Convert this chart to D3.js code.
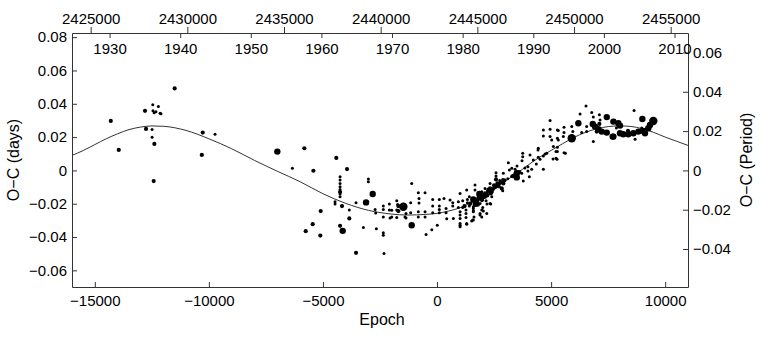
<!DOCTYPE html>
<html>
<head>
<meta charset="utf-8">
<script src="https://cdn.jsdelivr.net/npm/d3@7"></script>
<style>
  body { margin: 0; background: #fff; }
  text { font-family: "Liberation Sans", Arial, sans-serif; }
</style>
</head>
<body>
<div id="chart"></div>
<script>
// ephemeris used for the top (HJD) and right (period) axes
const period = 1.18;
const t0 = 2442915;

const epochTicks = [-15000, -10000, -5000, 0, 5000, 10000];
const daysTicks = [-0.06, -0.04, -0.02, 0, 0.02, 0.04, 0.06, 0.08];
const periodTicks = [-0.04, -0.02, 0, 0.02, 0.04, 0.06];
const jdTicks = [2425000, 2430000, 2435000, 2440000, 2445000, 2450000, 2455000];
const yearTicks = [1930, 1940, 1950, 1960, 1970, 1980, 1990, 2000, 2010];

// fitted light-time curve
const fitEpoch = [-16000, -15500, -15000, -14500, -14000, -13500, -13000, -12500, -12000, -11000,
  -10000, -9000, -8000, -7000, -6000, -5000, -4000, -3000, -2000, -1300, -500, 0, 500, 1000,
  1500, 2000, 2500, 3000, 3500, 4000, 4500, 5000, 5500, 6000, 6500, 7000, 7500, 8000, 8500,
  9000, 9500, 10000, 10500, 11000];
const fitOC = [0.0090, 0.0120, 0.0155, 0.0190, 0.0220, 0.0245, 0.0260, 0.0267, 0.0265, 0.0240,
  0.0190, 0.0130, 0.0060, -0.0005, -0.0068, -0.0140, -0.0198, -0.0240, -0.0262, -0.0268, -0.0264,
  -0.0258, -0.0244, -0.0225, -0.0193, -0.0155, -0.0113, -0.0063, -0.0018, 0.0033, 0.0080, 0.0120,
  0.0160, 0.0198, 0.0228, 0.0250, 0.0263, 0.0267, 0.0264, 0.0250, 0.0228, 0.0200, 0.0175, 0.0150];

// observed minima: [epoch, O-C days, weight class]
const observations = [
  [-14300,0.0297,2],[-13950,0.0123,2],[-12800,0.0358,2],[-12460,0.0394,1],[-12215,0.0383,1],[-12450,0.0358,1],
  [-12400,0.0346,1],[-12320,0.0352,1],[-12140,0.0343,1],[-12100,0.0340,1],[-12755,0.0249,2],[-12490,0.0245,1],
  [-12490,0.0199,1],[-12390,0.0159,2],[-12420,-0.0064,2],[-11500,0.0492,2],[-10270,0.0227,2],[-10310,0.0093,2],
  [-9730,0.0217,1],
  [-7000,0.0113,3],[-5815,0.0133,2],[-6340,0.0013,1],[-5420,-0.0002,2],[-4415,0.0075,2],[-3945,0.0008,2],
  [-4250,-0.0038,1],[-4250,-0.0058,1],[-4250,-0.0078,1],[-4250,-0.0098,1],[-4250,-0.0114,1],[-4250,-0.0130,2],
  [-4250,-0.0142,1],[-4250,-0.0158,1],[-4470,-0.0188,1],[-4470,-0.0202,1],[-5100,-0.0244,2],[-4165,-0.0214,2],
  [-3845,-0.0238,1],[-3845,-0.0288,2],[-5450,-0.0323,2],[-5755,-0.0365,2],[-5115,-0.0391,2],[-4250,-0.0333,2],
  [-4135,-0.0363,3],[-3550,-0.0194,1],[-3110,-0.0192,3],[-2820,-0.0142,3],[-3010,-0.0052,1],[-3010,-0.0068,1],
  [-3230,-0.0343,1],[-3550,-0.0495,2],[-2325,-0.0499,1],[-2660,-0.0351,1],[-2355,-0.0375,1],[-2355,-0.0389,1],
  [-2715,-0.0234,1],[-2690,-0.0255,1],[-2355,-0.0214,1],[-2355,-0.0234,1],[-2355,-0.0279,1],[-2090,-0.0202,1],
  [-2090,-0.0238,1],[-1765,-0.0182,1],[-1765,-0.0238,1],[-1695,-0.0214,2],[-1695,-0.0244,2],[-1475,-0.0218,4],
  [-1110,-0.0078,1],[-1155,-0.0194,1],[-820,-0.0134,1],[-525,-0.0134,1],[-790,-0.0168,1],[-790,-0.0196,1],
  [-1110,-0.0329,3],[-1360,-0.0286,1],[-1360,-0.0258,1],[-1765,-0.0282,1],[-2060,-0.0286,1],[-480,-0.0385,1],
  [-230,-0.0357,1],[10,-0.0329,1],[-190,-0.0174,1],[-190,-0.0214,1],[-190,-0.0254,1],[100,-0.0174,1],
  [100,-0.0214,1],[100,-0.0234,1],[100,-0.0254,1],[395,-0.0228,1],[395,-0.0254,1],[690,-0.0194,1],
  [690,-0.0214,1],[935,-0.0188,1],[935,-0.0222,1],[1010,-0.0248,1],[1010,-0.0268,1],[1010,-0.0288,1],
  [1125,-0.0182,1],[1125,-0.0222,1],[1270,-0.0238,1],[1270,-0.0258,1],[1270,-0.0282,1],[1330,-0.0174,1],
  [1330,-0.0194,1],[1415,-0.0158,1],[1415,-0.0214,1],[1010,-0.0329,1],[1300,-0.0323,1],[1520,-0.0303,1],
  [-1985,-0.0239,1],[-1985,-0.0279,1],[-1725,-0.0204,1],[-1405,-0.0279,1],[-1155,-0.0254,1],[-820,-0.0248,1],
  [-820,-0.0279,1],[-525,-0.0248,1],[-525,-0.0279,1],
  [1300,-0.0118,1],[1010,-0.0138,1],[305,-0.0168,1],[570,-0.0178,1],[425,-0.0290,1],[715,-0.0288,1],
  [1010,-0.0318,1],[1010,-0.0339,1],[1300,-0.0318,1],[1590,-0.0298,1],[1885,-0.0268,1],[1960,-0.0238,1],
  [2325,-0.0198,1],[1885,-0.0198,1],[1590,-0.0218,1],[1590,-0.0242,1],
  [1590,-0.0174,3],[1590,-0.0228,1],[1590,-0.0248,1],[1620,-0.0279,1],[1565,-0.0298,1],[1665,-0.0088,1],
  [1855,-0.0142,3],[1665,-0.0118,1],[1810,-0.0158,1],[1810,-0.0178,1],[1810,-0.0208,1],[1960,-0.0128,1],
  [1960,-0.0148,2],[1970,-0.0178,2],[2005,-0.0222,1],[2030,-0.0243,1],[1885,-0.0258,1],[2105,-0.0108,1],
  [2105,-0.0138,2],[2105,-0.0158,2],[2150,-0.0182,1],[2190,-0.0202,1],[2180,-0.0258,1],[2325,-0.0078,1],
  [2325,-0.0108,2],[2355,-0.0138,2],[2400,-0.0158,1],[2585,-0.0014,1],[2585,-0.0034,1],[2585,-0.0054,2],
  [2645,-0.0078,2],[2730,-0.0078,1],[2905,-0.0017,1],[2880,-0.0054,1],[2905,-0.0078,2],[2835,-0.0108,2],
  [2880,-0.0122,1],[1960,-0.0279,1],[2355,-0.0202,1],
  [2200,-0.0150,2],[2250,-0.0125,2],[2450,-0.0112,2],[2500,-0.0090,2],[2700,-0.0095,2],[2750,-0.0060,1],
  [2050,-0.0160,2],[1750,-0.0185,2],[1700,-0.0200,3],
  [1650,-0.0190,2],[1800,-0.0170,2],[1900,-0.0160,3],[2000,-0.0150,2],[2150,-0.0140,2],[2300,-0.0120,3],
  [2400,-0.0128,2],[2550,-0.0100,2],[2650,-0.0088,2],[2800,-0.0070,2],[2950,-0.0060,2],[3100,-0.0050,1],
  [3300,-0.0035,2],[3600,-0.0010,2],[3850,0.0015,1],[1450,-0.0200,2],[1200,-0.0215,2],
  [3275,0.0013,1],[3170,0.0002,1],[3345,-0.0028,1],[3495,-0.0017,3],[3495,-0.0042,3],[3710,-0.0017,1],
  [3780,-0.0064,1],[4045,-0.0038,1],[4150,0.0007,1],[4075,0.0093,1],[3755,0.0103,1],[3755,0.0082,1],
  [4220,0.0063,1],[4515,0.0067,1],[4440,0.0133,1],[4735,0.0099,1],[4440,0.0079,1],[4660,0.0007,1],
  [4660,0.0243,1],[4660,0.0207,1],[4955,0.0299,1],[5275,0.0243,1],[5275,0.0193,1],[5025,0.0183,1],
  [5275,0.0139,1],[5275,0.0113,1],[3725,0.0058,1],[4425,0.0122,1],[5260,0.0067,1],[5625,0.0103,1],
  [4955,0.0247,1],[4955,0.0203,1],[3420,0.0007,1],[3125,0.0046,1],[3505,0.0026,1],[3985,0.0022,1],
  [3985,-0.0004,1],[4350,0.0039,1],[5085,0.0069,1],
  [6530,0.0387,1],[6270,0.0339,1],[6780,0.0347,1],[6850,0.0320,1],[7115,0.0334,1],[7145,0.0303,1],
  [7440,0.0320,3],[7730,0.0293,3],[7945,0.0283,3],[8020,0.0223,3],[6825,0.0279,3],[6925,0.0263,3],
  [7070,0.0247,3],[7220,0.0233,3],[7115,0.0279,2],[7000,0.0233,2],[7440,0.0227,3],[7700,0.0203,3],
  [6850,0.0173,1],[5905,0.0193,4],[6195,0.0283,3],[6560,0.0233,1],[6560,0.0263,1],[6340,0.0227,1],
  [5905,0.0263,1],[5950,0.0233,1],[5565,0.0259,1],[5565,0.0227,1],[5535,0.0203,1],[5315,0.0239,1],
  [5315,0.0183,1],[5100,0.0143,1],[5215,0.0113,1],[5215,0.0073,1],[5565,0.0106,1],[4660,0.0087,1],
  [4810,0.0103,1],
  [8635,0.0359,1],[7760,0.0297,2],[9000,0.0309,3],[9480,0.0297,4],[9335,0.0273,3],[8020,0.0269,3],
  [7730,0.0203,3],[8165,0.0217,3],[8385,0.0217,3],[8605,0.0223,3],[8825,0.0233,3],[9040,0.0237,3],
  [9260,0.0253,3],[9115,0.0223,3],[8680,0.0187,1],[8970,0.0255,1],[7860,0.0255,1],[8370,0.0237,2]
];

const width = 763;
const height = 337;
const margin = { top: 33, right: 75, bottom: 50, left: 72 };

const x = d3.scaleLinear().domain([-16000, 11000]).range([margin.left, width - margin.right]);
const y = d3.scaleLinear().domain([-0.07, 0.0825]).range([height - margin.bottom, margin.top]);
const yP = d3.scaleLinear().domain(y.domain().map(d => d / period)).range(y.range());
const xJD = d3.scaleLinear().domain(x.domain().map(e => t0 + e * period)).range(x.range());
const yearToJD = yr => 2451545 + (yr - 2000) * 365.25;
const radius = d3.scaleOrdinal().domain([1, 2, 3, 4]).range([1.5, 2.1, 3.2, 4.2]);

const fmt = d => (d === 0 ? "0" : d3.format(".2f")(d));

const svg = d3.select("#chart")
  .append("svg")
  .attr("width", width)
  .attr("height", height)
  .style("display", "block");

svg.append("clipPath").attr("id", "clip")
  .append("rect")
  .attr("x", margin.left).attr("y", margin.top)
  .attr("width", width - margin.left - margin.right)
  .attr("height", height - margin.top - margin.bottom);

// fit curve
const line = d3.line()
  .x((d, i) => x(fitEpoch[i]))
  .y(d => y(d))
  .curve(d3.curveMonotoneX);

svg.append("path")
  .datum(fitOC)
  .attr("clip-path", "url(#clip)")
  .attr("fill", "none")
  .attr("stroke", "#333")
  .attr("stroke-width", 1)
  .attr("d", line);

// observations
svg.append("g")
  .selectAll("circle")
  .data(observations)
  .join("circle")
  .attr("cx", d => x(d[0]))
  .attr("cy", d => y(d[1]))
  .attr("r", d => radius(d[2]))
  .attr("fill", "#000");

// axes
const styleAxis = g => {
  g.selectAll(".domain").attr("stroke", "#333");
  g.selectAll(".tick line").attr("stroke", "#333");
  g.selectAll("text").attr("font-size", 15).attr("fill", "#000")
    .attr("font-family", "'Liberation Sans', Arial, sans-serif");
};

svg.append("g")
  .attr("transform", `translate(0,${height - margin.bottom})`)
  .call(d3.axisBottom(x).tickValues(epochTicks).tickSizeInner(-5).tickSizeOuter(0).tickPadding(8)
    .tickFormat(d3.format("d")))
  .call(styleAxis);

svg.append("g")
  .attr("transform", `translate(${margin.left},0)`)
  .call(d3.axisLeft(y).tickValues(daysTicks).tickSizeInner(-5).tickSizeOuter(0).tickPadding(5)
    .tickFormat(fmt))
  .call(styleAxis);

svg.append("g")
  .attr("transform", `translate(${width - margin.right},0)`)
  .call(d3.axisRight(yP).tickValues(periodTicks).tickSizeInner(-5).tickSizeOuter(0).tickPadding(5)
    .tickFormat(fmt))
  .call(styleAxis);

svg.append("g")
  .attr("transform", `translate(0,${margin.top})`)
  .call(d3.axisTop(xJD).tickValues(jdTicks).tickSizeInner(6).tickSizeOuter(0).tickPadding(3)
    .tickFormat(d3.format("d")))
  .call(styleAxis);

svg.append("g")
  .attr("transform", `translate(0,${margin.top})`)
  .call(d3.axisBottom(xJD).tickValues(yearTicks.map(yearToJD)).tickSizeInner(5).tickSizeOuter(0)
    .tickPadding(5).tickFormat((d, i) => yearTicks[i]))
  .call(styleAxis)
  .call(g => g.select(".domain").remove());

// titles
svg.append("text")
  .attr("x", (margin.left + width - margin.right) / 2 + 2)
  .attr("y", 325)
  .attr("text-anchor", "middle")
  .attr("font-size", 16)
  .text("Epoch");

svg.append("text")
  .attr("transform", "translate(19,160) rotate(-90)")
  .attr("text-anchor", "middle")
  .attr("font-size", 16)
  .text("O\u2212C (days)");

svg.append("text")
  .attr("transform", "translate(752,160) rotate(-90)")
  .attr("text-anchor", "middle")
  .attr("font-size", 16)
  .text("O\u2212C (Period)");
</script>
</body>
</html>
